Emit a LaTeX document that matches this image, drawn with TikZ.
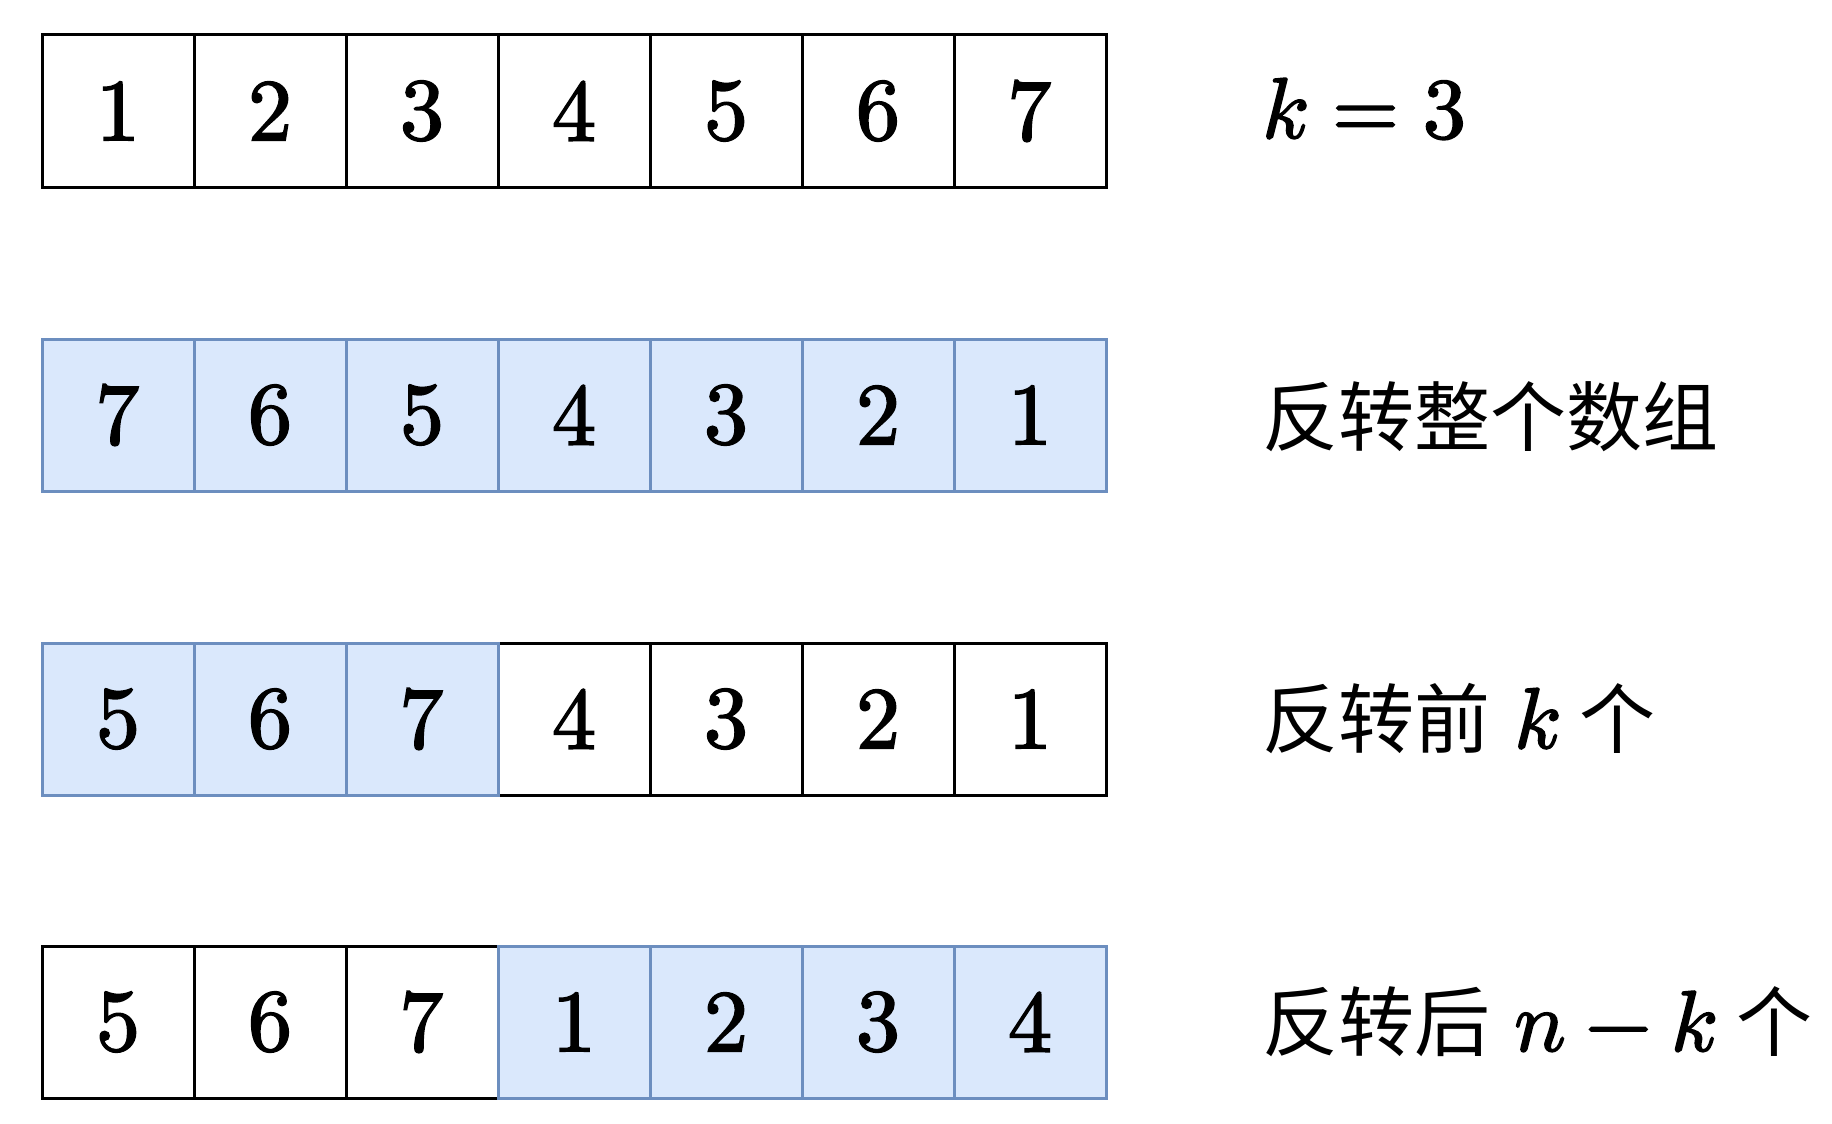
\documentclass[tikz,border=0pt]{standalone}
\usepackage{fontspec}
\usepackage{unicode-math}
\setmathfont{Latin Modern Math}[FakeBold=2]
\newfontfamily\cjk{Noto Sans CJK SC}
\definecolor{bfill}{HTML}{DAE8FC}
\definecolor{bdraw}{HTML}{6C8EBF}
\newcommand{\mth}[1]{{\fontsize{86}{86}\selectfont$#1$}}
\begin{document}
\begin{tikzpicture}[x=1pt,y=-1pt,
  cellw/.style={draw=black,fill=white,line width=3pt,minimum size=152pt,inner sep=0pt,
    font=\fontsize{88}{88}\selectfont},
  cellb/.style={cellw,draw=bdraw,fill=bfill},
  lbl/.style={anchor=west,inner sep=0pt,font=\cjk\fontsize{76}{76}\selectfont}]
\useasboundingbox (0,0) rectangle (1832,1124);
% row 1
\foreach \v [count=\i] in {1,2,3,4,5,6,7}
  \node[cellw] (a\i) at ({42+76+152*(\i-1)},111) {$\v$};
% row 2
\foreach \v [count=\i] in {7,6,5,4,3,2,1}
  \node[cellb] (b\i) at ({42+76+152*(\i-1)},415) {$\v$};
% row 3
\foreach \v [count=\i from 4] in {4,3,2,1}
  \node[cellw] (c\i) at ({42+76+152*(\i-1)},719) {$\v$};
\foreach \v [count=\i] in {5,6,7}
  \node[cellb] (c\i) at ({42+76+152*(\i-1)},719) {$\v$};
% row 4
\foreach \v [count=\i] in {5,6,7}
  \node[cellw] (d\i) at ({42+76+152*(\i-1)},1022) {$\v$};
\foreach \v [count=\i from 4] in {1,2,3,4}
  \node[cellb] (d\i) at ({42+76+152*(\i-1)},1022) {$\v$};
% labels
\node[lbl] (la) at (1262,109) {\mth{k=3}};
\node[lbl] (lb) at (1262,417) {反转整个数组};
\node[lbl] (lc) at (1262,719) {反转前\hspace{24pt}\mth{k}\hspace{19pt}个};
\node[lbl] (ld) at (1262,1022) {反转后\hspace{24pt}\mth{n-k}\hspace{19pt}个};
\end{tikzpicture}
\end{document}
